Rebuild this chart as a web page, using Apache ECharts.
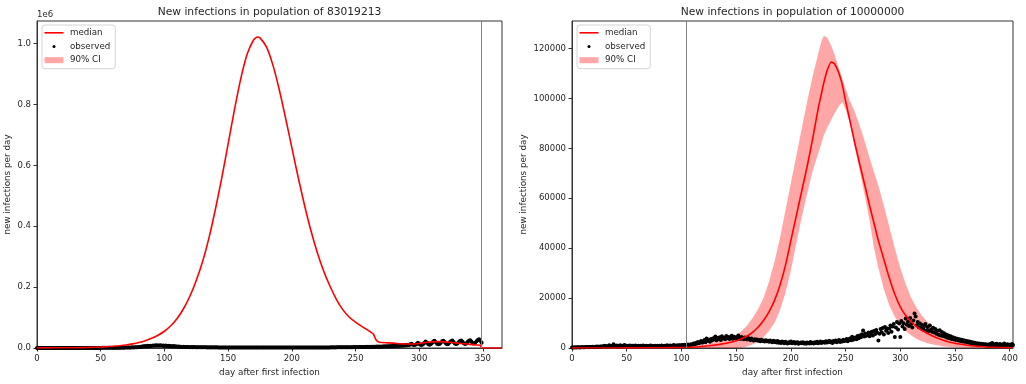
<!DOCTYPE html>
<html>
<head>
<meta charset="utf-8">
<title>New infections</title>
<script src="https://cdn.jsdelivr.net/npm/echarts@6/dist/echarts.min.js"></script>
<style>
html, body { margin: 0; padding: 0; background: #fff; }
#chart { width: 1026px; height: 384px; }
</style>
</head>
<body>
<div id="chart"></div>
<script>
// ---- left panel: population 83019213 ----
var leftTitle = 'New infections in population of 83019213';
var leftXTicks = [0, 50, 100, 150, 200, 250, 300, 350];
var leftYTicks = [0, 200000, 400000, 600000, 800000, 1000000];
var leftCutoffDay = 349;

var leftMedianDays = [0,10,20,30,40,45,50,55,60,65,70,75,80,85,90,95,100,105,110,115,120,125,130,135,140,145,150,155,160,165,170,173,175,180,185,190,195,200,205,210,215,220,225,230,235,240,245,250,255,260,262,264,266,268,270,275,280,285,290,295,300,305,310,315,320,325,330,335,340,345,348,349,350,365];
var leftMedianValues = [300,500,700,1000,1700,2300,3100,4200,5600,7500,10000,13500,18000,24000,32000,42000,55000,73000,97000,129000,170000,222000,284000,362000,455000,558000,670000,783000,886000,966000,1012000,1022000,1019000,990000,932000,852000,758000,659000,561000,469000,386000,314000,253000,203000,160000,126000,102000,85000,71000,58000,52000,46000,28000,20000,18000,17000,16000,14000,13000,13000,15000,18000,20000,21000,20000,18000,16000,14000,12000,10000,9000,1000,0,0];
// the 90% band is too narrow to see at this scale, it sits on the median
var leftCiLow = leftMedianValues;
var leftCiHigh = leftMedianValues;

// observed, one value per day starting at day 0
var leftObserved = [
  0,0,0,0,0,0,0,0,0,0,
  0,0,0,0,0,10,0,0,20,0,
  10,20,10,30,20,40,30,50,40,60,
  50,80,60,100,90,120,100,150,130,180,
  160,220,190,260,230,300,280,350,320,400,
  380,450,420,520,480,600,550,680,640,760,
  700,850,780,950,900,1100,1000,1250,1150,1400,
  1300,1600,1500,1800,1700,2100,1900,2400,2200,2700,
  3000,4200,3500,5600,4800,6200,5300,7000,5900,7800,
  6400,8200,7000,8900,7400,9300,7800,9000,7200,8600,
  6800,8000,6300,7400,5800,6900,5200,6300,4700,5600,
  4200,4900,3800,4400,3500,4000,3200,3600,3000,3300,
  2800,3100,2600,2900,2500,2800,2400,2700,2300,2600,
  2200,2500,2100,2400,2000,2300,2000,2200,1900,2100,
  1900,2100,1800,2000,1800,2000,1700,1900,1700,1900,
  1700,1800,1600,1800,1600,1700,1600,1700,1500,1700,
  1500,1600,1500,1600,1400,1600,1400,1500,1400,1500,
  1400,1500,1300,1500,1300,1400,1300,1400,1300,1400,
  1300,1400,1300,1400,1300,1400,1300,1400,1300,1400,
  1300,1400,1300,1500,1300,1400,1300,1500,1400,1500,
  1400,1500,1400,1600,1400,1500,1400,1600,1500,1600,
  1500,1600,1500,1700,1500,1700,1600,1700,1600,1800,
  1600,1800,1700,1900,1700,1900,1800,2000,1800,2000,
  1900,2100,1900,2200,2000,2200,2100,2300,2100,2400,
  2200,2500,2300,2600,2400,2700,2500,2800,2600,3000,
  2700,3100,2800,3300,2900,3400,3100,3600,3200,3800,
  3400,4000,3600,4300,3800,4500,4000,4800,4200,5000,
  4400,5300,4700,5600,5000,6000,5300,6400,5600,6800,
  6000,7300,6400,7800,6800,8400,7300,9000,7800,9600,
  8300,10500,9000,12000,14000,11000,9500,10500,13500,17000,
  13000,10500,9800,12500,16500,21500,18000,13000,11000,12500,
  16500,21000,23500,19000,14000,12000,13500,17500,22000,24000,
  19500,14500,12500,14000,18500,22500,24500,20000,15000,13000,
  14500,19000,23000,25000,20500,15500,13500,15000,19500,23500,
  25500,21000,16000,14500,17000,22000,26500,29000,24000,17500
];

// ---- right panel: population 10000000 ----
var rightTitle = 'New infections in population of 10000000';
var rightXTicks = [0, 50, 100, 150, 200, 250, 300, 350, 400];
var rightYTicks = [0, 20000, 40000, 60000, 80000, 100000, 120000];
var rightCutoffDay = 104;

var rightDays = [0,20,40,60,80,100,105,110,115,120,125,130,135,140,145,150,155,160,165,170,175,180,185,190,195,200,205,210,215,220,225,228,230,233,237,240,244,247,250,254,258,263,268,272,276,280,285,290,295,300,305,310,315,320,325,330,340,350,360,370,380,390,403];
var rightMedian = [0,10,30,60,100,200,250,350,500,700,900,1150,1450,1800,2300,2900,3700,4800,6300,8300,11000,14500,19000,25000,33000,43000,53000,63000,73000,84000,96000,102000,106000,111000,114600,113800,110000,105500,99000,91000,83000,73500,64500,57000,50000,43000,35500,28000,21500,16500,13000,10500,8600,7000,5800,4700,3000,1900,1200,700,400,200,80];
var rightCiHigh = [0,20,50,100,180,350,480,700,950,1300,1750,2300,2900,3600,4300,5000,6800,9000,12000,15500,20000,26500,34500,44000,55000,66000,77000,88000,99000,109000,118000,123000,125000,124500,121000,117500,112000,108000,104000,99000,95000,89000,82000,76000,70500,65000,57000,48500,40000,32000,25500,20000,16000,12800,10300,8400,5400,3400,2100,1300,800,450,200];
var rightCiLow = [0,0,0,0,0,0,0,0,0,0,0,0,0,0,0,0,100,600,1400,2600,4300,6800,10000,15000,22000,31000,42000,52500,62000,71000,78000,82000,85000,88000,91500,94000,97000,98600,95500,90000,81000,71000,60000,51000,40000,32000,23500,17000,12500,9200,6800,5000,3600,2600,1900,1400,650,280,110,40,15,0,0];

var rightObserved = [
  200,250,180,300,220,260,310,240,280,330,
  300,350,280,400,360,320,450,380,420,500,
  450,520,480,600,550,500,650,580,620,700,
  900,650,750,600,1100,700,820,680,1500,900,
  780,1000,650,850,1100,700,900,820,1200,760,
  880,700,950,1050,720,860,900,680,1000,780,
  820,950,700,880,760,1000,840,720,900,800,
  760,900,1050,700,850,800,950,680,880,820,
  900,760,1000,850,700,950,820,1100,780,900,
  1000,850,950,1200,800,1050,900,1150,980,1100,
  1000,1250,950,1300,1100,1200,1400,1050,1350,1500,
  1300,1800,1500,2000,1700,2400,1900,2200,2800,2100,
  2600,3200,2300,3800,2900,3300,2500,3600,3000,3900,
  3400,4600,3100,4000,3600,4300,3200,4700,3800,4100,
  3500,4800,3900,4400,3600,4200,4900,3700,4500,4000,
  4300,3800,5000,4100,3600,4400,3900,3500,4200,3700,
  3400,4000,3600,3200,3800,3300,3000,3500,3100,3400,
  2900,3200,2700,3300,2800,3000,2600,3100,2700,2900,
  2500,3000,2600,2300,2900,2400,2700,2200,2800,2100,
  2400,2000,2600,2200,1900,2500,2100,1800,2300,2000,
  2600,1900,2200,2400,1800,2100,2300,1700,2000,2200,
  1900,2300,1800,2100,1700,2200,2000,1800,2400,1900,
  2100,1800,2300,2000,2500,1900,2200,2600,2000,2300,
  2400,2100,2700,2200,2500,2900,2300,2600,2000,2800,
  2500,3000,2300,2700,3200,2400,2900,2600,3300,2800,
  3000,3600,2700,3400,3800,3100,4500,3300,3900,4200,
  3500,4800,3900,5000,4300,5500,7000,4600,5800,4900,
  5300,6200,4700,5900,6500,5000,6800,5600,7200,6100,
  3000,5700,7600,6300,8000,5400,8400,6900,7800,6000,
  7700,9000,6500,8600,9600,4400,8200,10400,7400,9800,
  4400,10800,8600,9900,7600,11800,9300,10500,8800,12000,
  9600,8200,11000,13800,12600,9100,10400,8300,9800,7900,
  9200,7500,8800,9600,7000,8400,6800,9000,7300,6500,
  8100,6200,7600,5700,6900,5300,7100,5000,6400,4800,
  5900,4500,5400,4100,5000,3900,4700,3600,4300,3400,
  4000,3200,3700,3000,3500,2800,3300,2600,3100,2500,
  2900,2300,2700,2100,2500,1900,2300,1700,2100,1600,
  1900,1500,1800,1300,1700,1200,1600,1100,1500,1000,
  1400,900,1600,1100,2000,1200,1500,900,1700,1300,
  1100,1600,800,1400,1000,1800,1200,900,1500,1100,
  1300,900,1600,1200
];

var textColor = '#262626';
var fontFamily = 'DejaVu Sans';
var redLine = '#ff0000';
var bandColor = 'rgba(255,0,0,0.35)';

function pairs(xs, ys) {
    return xs.map(function (x, i) { return [x, ys[i]]; });
}
function daily(ys) {
    return ys.map(function (y, i) { return [i, y]; });
}

function xAxisFor(gridIndex, max, ticks) {
    return {
        gridIndex: gridIndex,
        type: 'value',
        min: 0,
        max: max,
        name: 'day after first infection',
        nameLocation: 'middle',
        nameGap: 17,
        nameTextStyle: { color: textColor, fontSize: 8.8, fontFamily: fontFamily },
        axisLine: { show: true, onZero: false, lineStyle: { color: '#333', width: 1 } },
        axisTick: { show: true, length: 3.5, customValues: ticks, lineStyle: { color: '#333' } },
        axisLabel: { show: true, customValues: ticks, margin: 6, color: textColor, fontSize: 8.5, fontFamily: fontFamily },
        splitLine: { show: false }
    };
}
function yAxisFor(gridIndex, max, ticks, gap, fmt) {
    return {
        gridIndex: gridIndex,
        type: 'value',
        min: 0,
        max: max,
        name: 'new infections per day',
        nameLocation: 'middle',
        nameRotate: 90,
        nameGap: gap,
        nameTextStyle: { color: textColor, fontSize: 8.8, fontFamily: fontFamily },
        axisLine: { show: true, onZero: false, lineStyle: { color: '#333', width: 1 } },
        axisTick: { show: true, length: 3.5, customValues: ticks, lineStyle: { color: '#333' } },
        axisLabel: { show: true, customValues: ticks, margin: 6, color: textColor, fontSize: 8.5, fontFamily: fontFamily, formatter: fmt },
        splitLine: { show: false }
    };
}

// the band is one polygon: upper edge left to right, then lower edge back
function bandSeries(idx, days, low, high) {
    return {
        name: '90% CI',
        type: 'custom',
        xAxisIndex: idx, yAxisIndex: idx,
        silent: true,
        clip: true,
        itemStyle: { color: bandColor },
        data: days.map(function (d, i) { return [d, low[i], high[i]]; }),
        encode: { x: 0, y: [1, 2] },
        renderItem: function (params, api) {
            if (params.dataIndex !== 0) return null;
            var upper = [], lower = [];
            for (var i = 0; i < days.length; i++) {
                upper.push(api.coord([days[i], high[i]]));
                lower.unshift(api.coord([days[i], low[i]]));
            }
            return {
                type: 'polygon',
                shape: { points: upper.concat(lower) },
                style: { fill: bandColor, stroke: null }
            };
        }
    };
}

function panelSeries(idx, medianData, ciDays, ciLow, ciHigh, observed, cutoff) {
    return [
        bandSeries(idx, ciDays, ciLow, ciHigh),
        {
            name: 'median',
            type: 'line',
            xAxisIndex: idx, yAxisIndex: idx,
            data: medianData,
            symbol: 'none',
            smooth: 0.2,
            itemStyle: { color: redLine },
            lineStyle: { color: redLine, width: 1.6 }
        },
        {
            name: 'observed',
            type: 'scatter',
            xAxisIndex: idx, yAxisIndex: idx,
            data: daily(observed),
            symbol: 'circle',
            symbolSize: 4,
            itemStyle: { color: '#000', opacity: 1 },
            markLine: {
                silent: true,
                symbol: 'none',
                label: { show: false },
                lineStyle: { color: '#808080', width: 1, type: 'solid' },
                data: [{ xAxis: cutoff }]
            }
        }
    ];
}

function legendAt(left) {
    var keep = 'path://M0,0M19,8';
    return {
        orient: 'vertical',
        left: left,
        top: 25,
        align: 'left',
        itemWidth: 19,
        itemHeight: 8,
        itemGap: 4.7,
        padding: [3.3, 5, 4, 2.5],
        backgroundColor: '#fff',
        borderColor: '#d4d4d4',
        borderWidth: 1,
        borderRadius: 3,
        selectedMode: false,
        textStyle: { color: textColor, fontSize: 8.7, fontFamily: fontFamily, lineHeight: 9, padding: [0, 0, 0, 1.5] },
        data: [
            { name: 'median', icon: keep + 'M0,3.2h19v1.6H0z', itemStyle: { color: redLine, borderWidth: 0, opacity: 1 } },
            { name: 'observed', icon: keep + 'M8,4a1.5,1.5 0 1 0 3,0a1.5,1.5 0 1 0 -3,0z', itemStyle: { color: '#000', borderWidth: 0, opacity: 1 } },
            { name: '90% CI', icon: keep + 'M0,1h19v6H0z', itemStyle: { color: bandColor, borderWidth: 0, opacity: 1 } }
        ]
    };
}

var chart = echarts.init(document.getElementById('chart'), null, { renderer: 'canvas' });
chart.setOption({
    animation: false,
    backgroundColor: '#fff',
    title: [
        { text: leftTitle, left: 269.5, top: 6.5, padding: 0, textAlign: 'center',
          textStyle: { color: textColor, fontSize: 10.7, fontWeight: 'normal', fontFamily: fontFamily } },
        { text: rightTitle, left: 792.5, top: 6.5, padding: 0, textAlign: 'center',
          textStyle: { color: textColor, fontSize: 10.7, fontWeight: 'normal', fontFamily: fontFamily } },
        { text: '1e6', left: 37, top: 10.5, padding: 0,
          textStyle: { color: textColor, fontSize: 8.5, fontWeight: 'normal', fontFamily: fontFamily } }
    ],
    legend: [legendAt(42), legendAt(577)],
    tooltip: { show: false },
    grid: [
        { left: 37, right: 524, top: 21, bottom: 36, show: true, borderColor: '#333', borderWidth: 1, backgroundColor: 'transparent', outerBoundsMode: 'none' },
        { left: 572, right: 13, top: 21, bottom: 36, show: true, borderColor: '#333', borderWidth: 1, backgroundColor: 'transparent', outerBoundsMode: 'none' }
    ],
    xAxis: [
        xAxisFor(0, 365, leftXTicks),
        xAxisFor(1, 403, rightXTicks)
    ],
    yAxis: [
        yAxisFor(0, 1074500, leftYTicks, 25, function (v) { return (v / 1e6).toFixed(1); }),
        yAxisFor(1, 131000, rightYTicks, 43.5, function (v) { return String(v); })
    ],
    series: panelSeries(0, pairs(leftMedianDays, leftMedianValues), leftMedianDays, leftCiLow, leftCiHigh, leftObserved, leftCutoffDay)
        .concat(panelSeries(1, pairs(rightDays, rightMedian), rightDays, rightCiLow, rightCiHigh, rightObserved, rightCutoffDay))
});
</script>
</body>
</html>
